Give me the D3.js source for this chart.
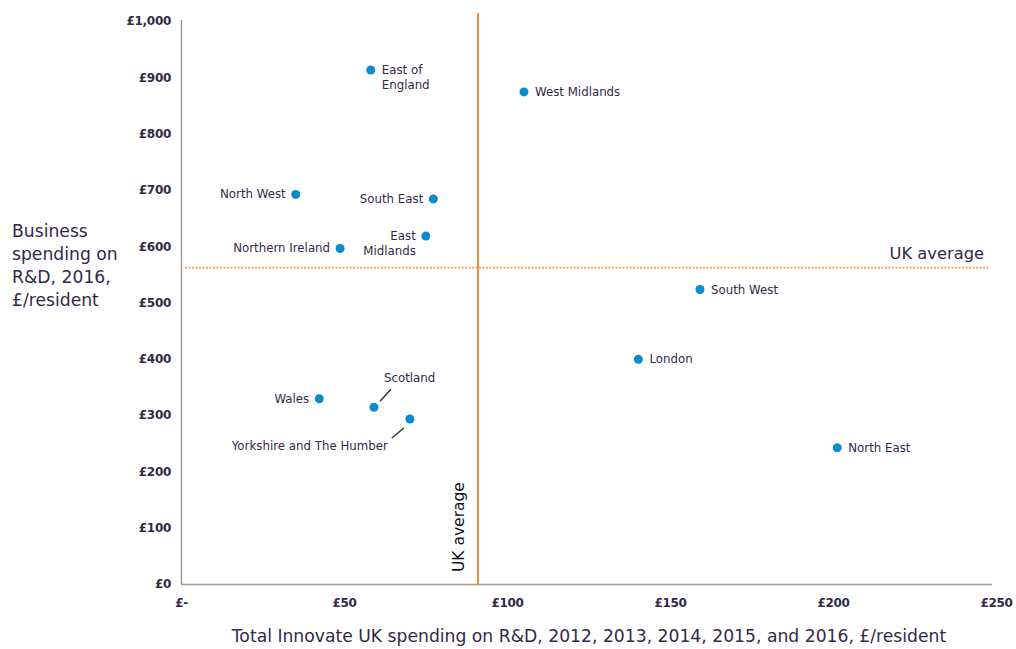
<!DOCTYPE html>
<html><head><meta charset="utf-8">
<script src="https://cdn.jsdelivr.net/npm/d3@7"></script>
<style>body{margin:0;background:#fff;} text{font-family:"DejaVu Sans",sans-serif;}</style>
</head><body>
<svg id="c" width="1016" height="649"></svg>
<script>
const regions = ["East of England","West Midlands","North West","South East","East Midlands","Northern Ireland","South West","London","North East","Wales","Scotland","Yorkshire and The Humber"];
const innovateSpend = [58.2,105.2,35.2,77.4,75.1,48.8,159.2,140.3,201.3,42.4,59.2,70.2];
const businessSpend = [913,874,692,684,618,596,523,399,242,329,314,293];
const xTicks = [0,50,100,150,200,250];
const yTicks = [0,100,200,300,400,500,600,700,800,900,1000];
const ukAvgX = 91.1, ukAvgY = 562;

const svg = d3.select("#c");
const x = d3.scaleLinear().domain([0,250]).range([181,996]);
const y = d3.scaleLinear().domain([0,1000]).range([584,21]);
const textCol = "#33294a";

const fmtY = v => v===0 ? "£0" : "£" + d3.format(",")(v);
const fmtX = v => v===0 ? "£-" : "£" + v;

const gx = svg.append("g").attr("transform","translate(0,584)")
  .call(d3.axisBottom(x).tickValues(xTicks).tickFormat(fmtX).tickSize(0).tickPadding(14));
const gy = svg.append("g").attr("transform","translate(181,0)")
  .call(d3.axisLeft(y).tickValues(yTicks).tickFormat(fmtY).tickSize(0).tickPadding(10));
[gx,gy].forEach(g=>{
  g.select(".domain").attr("stroke","#a89a8c").attr("stroke-width",1.5);
  g.selectAll("text").attr("fill",textCol).attr("font-size",12).attr("font-weight","bold")
    .attr("letter-spacing",-0.3).style("font-family","DejaVu Sans");
});
gx.select(".domain").attr("d","M181,0.5H992");
gy.select(".domain").attr("d","M0.5,20V584");

// UK average lines
svg.append("line").attr("x1",185).attr("x2",990).attr("y1",y(ukAvgY)).attr("y2",y(ukAvgY))
  .attr("stroke","#f58220").attr("stroke-width",1.6).attr("stroke-dasharray","2,1.5").attr("opacity",0.8);
svg.append("line").attr("x1",x(ukAvgX)).attr("x2",x(ukAvgX)).attr("y1",13).attr("y2",585)
  .attr("stroke","#f58220").attr("stroke-width",1.8);
svg.append("text").attr("x",984).attr("y",y(ukAvgY)-9).attr("text-anchor","end")
  .attr("font-size",16.3).attr("fill",textCol).text("UK average");
svg.append("text").attr("transform",`translate(${x(ukAvgX)-14},572) rotate(-90)`)
  .attr("font-size",15.5).attr("fill","#111").text("UK average");

// dots
const data = regions.map((r,i)=>({r, x:innovateSpend[i], y:businessSpend[i]}));
svg.selectAll("circle.d").data(data).join("circle")
  .attr("cx",d=>x(d.x)).attr("cy",d=>y(d.y)).attr("r",4.5).attr("fill","#0a8ccc");

// labels: [dx, dy, anchor, lines]
const lab = {
  "East of England":[11,4,"start",["East of","England"]],
  "West Midlands":[11,4,"start",["West Midlands"]],
  "North West":[-10,4,"end",["North West"]],
  "South East":[-10,4,"end",["South East"]],
  "East Midlands":[-10,4,"end",["East","Midlands"]],
  "Northern Ireland":[-10,4,"end",["Northern Ireland"]],
  "South West":[11,4,"start",["South West"]],
  "London":[11,4,"start",["London"]],
  "North East":[11,4,"start",["North East"]],
  "Wales":[-10,4,"end",["Wales"]],
  "Scotland":[10,-25,"start",["Scotland"]],
  "Yorkshire and The Humber":[-22,31,"end",["Yorkshire and The Humber"]]
};
data.forEach(d=>{
  const [dx,dy,anc,lines] = lab[d.r];
  const t = svg.append("text").attr("x",x(d.x)+dx).attr("y",y(d.y)+dy)
    .attr("text-anchor",anc).attr("font-size",11.8).attr("fill",textCol);
  lines.forEach((l,i)=>t.append("tspan").attr("x",x(d.x)+dx).attr("dy",i?15:0).text(l));
});
// leader lines
const sc = data.find(d=>d.r==="Scotland"), yk = data.find(d=>d.r==="Yorkshire and The Humber");
svg.append("line").attr("x1",x(sc.x)+6).attr("y1",y(sc.y)-6).attr("x2",x(sc.x)+17).attr("y2",y(sc.y)-18)
  .attr("stroke","#333").attr("stroke-width",1.5);
svg.append("line").attr("x1",x(yk.x)-6).attr("y1",y(yk.y)+9).attr("x2",x(yk.x)-18).attr("y2",y(yk.y)+19)
  .attr("stroke","#333").attr("stroke-width",1.5);

// axis titles
const yt = svg.append("text").attr("x",12).attr("y",237).attr("font-size",17.2).attr("fill",textCol);
["Business","spending on","R&D, 2016,","£/resident"].forEach((l,i)=>yt.append("tspan").attr("x",12).attr("dy",i?23:0).text(l));
svg.append("text").attr("x",589).attr("y",642).attr("text-anchor","middle").attr("font-size",17.2)
  .attr("fill",textCol).text("Total Innovate UK spending on R&D, 2012, 2013, 2014, 2015, and 2016, £/resident");
</script>
</body></html>
